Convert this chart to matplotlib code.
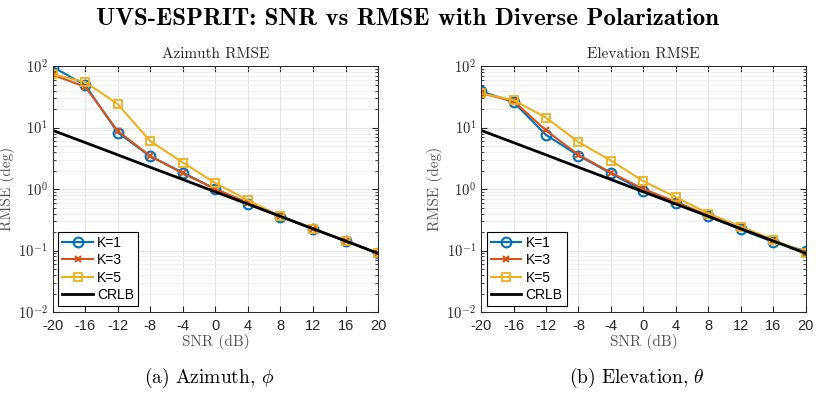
import math
import matplotlib
matplotlib.use("Agg")
import matplotlib.pyplot as plt
from matplotlib.ticker import FixedLocator, FuncFormatter, LogLocator, NullFormatter

plt.rcParams['mathtext.fontset'] = 'cm'
plt.rcParams['axes.unicode_minus'] = False

snr = [-20, -16, -12, -8, -4, 0, 4, 8, 12, 16, 20]

# azimuth RMSE (deg)
az_k1 = [97, 49, 8.3, 3.4, 1.85, 1.0, 0.58, 0.355, 0.224, 0.144, 0.09]
az_k3 = [72, 46, 8.8, 3.45, 1.8, 1.0, 0.6, 0.36, 0.226, 0.145, 0.09]
az_k5 = [74, 55, 24, 6.0, 2.7, 1.25, 0.66, 0.36, 0.225, 0.145, 0.09]
az_crlb = [9.0, 5.7, 3.6, 2.26, 1.43, 0.9, 0.57, 0.36, 0.226, 0.143, 0.09]

# elevation RMSE (deg)
el_k1 = [39, 26, 7.6, 3.5, 1.8, 0.93, 0.6, 0.36, 0.22, 0.138, 0.098]
el_k3 = [36, 27, 9.0, 3.6, 1.85, 1.0, 0.62, 0.37, 0.23, 0.145, 0.092]
el_k5 = [36, 28, 14.5, 5.8, 2.9, 1.34, 0.74, 0.40, 0.245, 0.15, 0.092]
el_crlb = [9.0, 5.7, 3.6, 2.26, 1.43, 0.9, 0.57, 0.36, 0.226, 0.143, 0.09]

blue = '#0072BD'
orange = '#D95319'
yellow = '#EDB120'
grey = '#262626'

fig = plt.figure(figsize=(8.16, 3.96), dpi=100)
ax1 = fig.add_axes([0.0646, 0.2121, 0.3987, 0.621])
ax2 = fig.add_axes([0.5895, 0.2121, 0.398, 0.621])


def draw(ax, k1, k3, k5, crlb, title, caption):
    ax.plot(snr, k1, '-o', color=blue, lw=1.5, ms=7, mfc='none', mew=1.5, label='K=1')
    ax.plot(snr, k3, '-x', color=orange, lw=1.5, ms=5, mew=1.5, label='K=3')
    ax.plot(snr, k5, '-s', color=yellow, lw=1.5, ms=6, mfc='none', mew=1.3, label='K=5')
    ax.plot(snr, crlb, '-', color='black', lw=2, label='CRLB')
    ax.set_yscale('log')
    ax.set_xlim(-20, 20)
    ax.set_ylim(1e-2, 1e2)
    ax.xaxis.set_major_locator(FixedLocator(snr))
    ax.yaxis.set_major_locator(FixedLocator([1e-2, 1e-1, 1, 1e1, 1e2]))
    ax.yaxis.set_minor_locator(LogLocator(base=10, subs=range(2, 10)))
    ax.yaxis.set_minor_formatter(NullFormatter())
    ax.yaxis.set_major_formatter(FuncFormatter(
        lambda v, p: r'$\mathsf{10^{%d}}$' % round(math.log10(v))))
    ax.set_xticklabels([str(s) for s in snr], family='Liberation Sans')
    ax.tick_params(which='both', direction='in', colors=grey, labelsize=10.5,
                   top=True, right=True, length=4)
    ax.tick_params(axis='x', pad=5)
    ax.tick_params(which='minor', length=2)
    ax.grid(True, which='major', color='#dedede', lw=0.6)
    ax.grid(True, which='minor', color='#ececec', lw=0.5)
    ax.set_axisbelow(True)
    for sp in ax.spines.values():
        sp.set_color(grey)
        sp.set_linewidth(0.7)
    ax.set_title(title, family='cmr10', fontsize=11, color=grey, pad=6)
    ax.set_xlabel('SNR (dB)', family='cmr10', fontsize=11, color='#555555', labelpad=1)
    ax.set_ylabel('RMSE (deg)', family='cmr10', fontsize=11, color='#555555')
    ax.yaxis.set_label_coords(-0.116, 0.5)
    leg = ax.legend(loc='lower left', prop={'family': 'Liberation Sans', 'size': 10},
                    fancybox=False, edgecolor='black', framealpha=1,
                    handlelength=2.2, handletextpad=0.3, borderpad=0.3,
                    labelspacing=0.25, borderaxespad=0.4)
    leg.get_frame().set_linewidth(0.8)
    ax.text(0.48, -0.268, caption, transform=ax.transAxes, ha='center', va='center',
            family='cmr10', fontsize=14)


draw(ax1, az_k1, az_k3, az_k5, az_crlb, 'Azimuth RMSE', r'(a) Azimuth, $\phi$')
draw(ax2, el_k1, el_k3, el_k5, el_crlb, 'Elevation RMSE', r'(b) Elevation, $\theta$')

fig.text(0.5, 0.952, 'UVS-ESPRIT: SNR vs RMSE with Diverse Polarization',
         ha='center', va='center', family='cmb10', fontsize=18)

fig.savefig('out.png', dpi=100)
